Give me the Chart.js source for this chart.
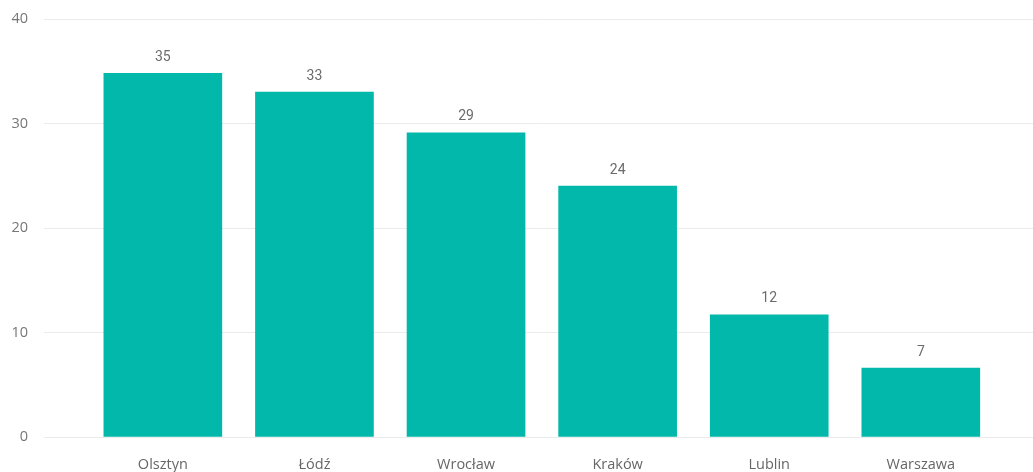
<!DOCTYPE html>
<html>
<head>
<meta charset="utf-8">
<script src="https://cdn.jsdelivr.net/npm/chart.js@4/dist/chart.umd.min.js"></script>
<style>
html,body{margin:0;padding:0;background:#fff;}
#wrap{position:relative;width:1033px;height:472px;}
</style>
</head>
<body>
<div id="wrap"><canvas id="c" width="1033" height="472"></canvas></div>
<script>
const categories = ["Olsztyn", "Łódź", "Wrocław", "Kraków", "Lublin", "Warszawa"];
const values = [34.8, 33.0, 29.1, 24.0, 11.7, 6.6];
const yTicks = [0, 10, 20, 30, 40];

const barColor = "#01B8AA";

const dataLabels = {
  id: "dataLabels",
  afterDatasetsDraw(chart) {
    const ctx = chart.ctx;
    const meta = chart.getDatasetMeta(0);
    ctx.save();
    ctx.font = "14px Roboto, 'DejaVu Sans', sans-serif";
    ctx.fillStyle = "#6b6b6b";
    ctx.textAlign = "center";
    ctx.textBaseline = "middle";
    meta.data.forEach((bar, i) => {
      ctx.fillText(String(Math.round(values[i])), bar.x, bar.y - 16);
    });
    ctx.restore();
  }
};

new Chart(document.getElementById("c"), {
  type: "bar",
  data: {
    datasets: [{
      data: values.map((v, i) => ({x: i, y: v})),
      backgroundColor: barColor,
      borderWidth: 0,
      barThickness: 118
    }]
  },
  options: {
    responsive: false,
    animation: false,
    devicePixelRatio: 1,
    layout: {padding: {top: 19, right: 0, left: 0, bottom: 0}},
    plugins: {legend: {display: false}, tooltip: {enabled: false}},
    scales: {
      x: {
        type: "linear",
        offset: false,
        min: -0.784,
        max: 5.74,
        grid: {display: false, drawTicks: false, offset: false},
        border: {display: false},
        afterBuildTicks(scale) { scale.ticks = categories.map((_, i) => ({value: i})); },
        afterFit(scale) { scale.height = 35; scale.paddingLeft = 0; scale.paddingRight = 0; },
        ticks: {
          autoSkip: false,
          maxRotation: 0,
          padding: 19,
          color: "#666666",
          font: {family: "'Open Sans', sans-serif", size: 14.5},
          callback: (v) => categories[v]
        }
      },
      y: {
        min: 0,
        max: 40,
        afterBuildTicks(scale) { scale.ticks = yTicks.map(v => ({value: v})); },
        afterFit(scale) { scale.width = 44; scale.paddingTop = 0; scale.paddingBottom = 0; },
        grid: {color: "#ebebeb", lineWidth: 1, drawTicks: false},
        border: {display: false},
        ticks: {
          padding: 16,
          color: "#777777",
          font: {family: "'Open Sans', sans-serif", size: 14.5}
        }
      }
    }
  },
  plugins: [dataLabels]
});
</script>
</body>
</html>
